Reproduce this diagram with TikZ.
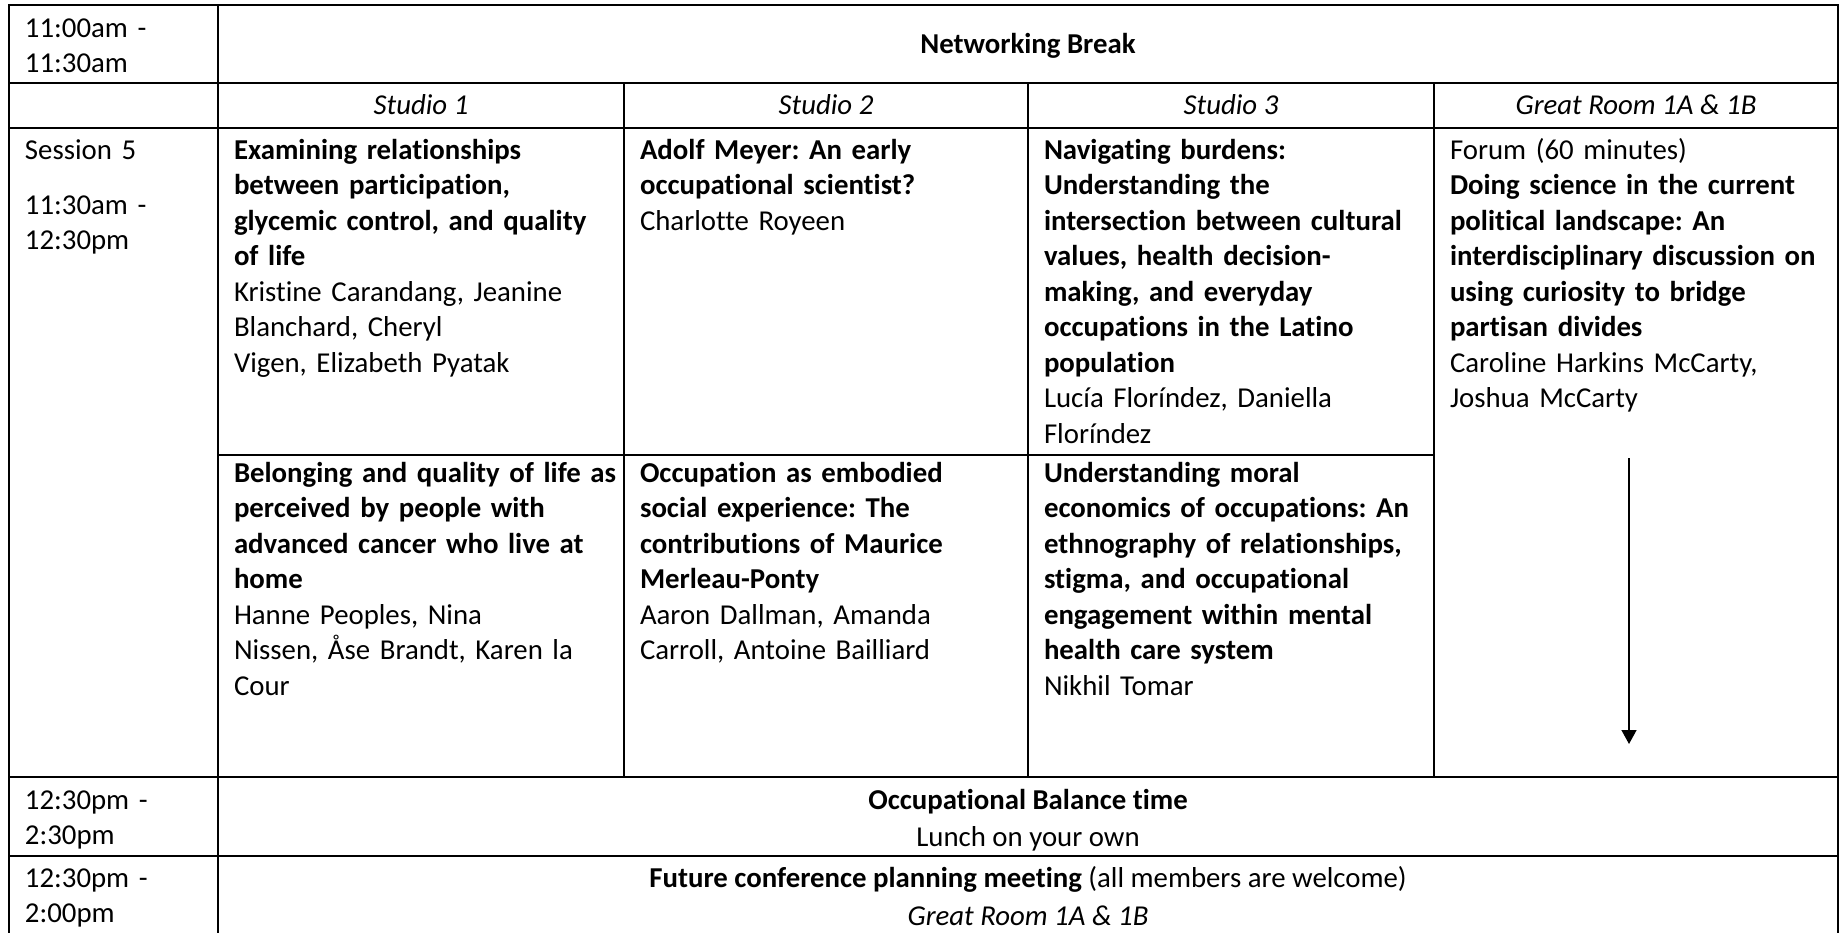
\documentclass[tikz,border=0pt]{standalone}
\usepackage{fontspec}
\setmainfont{Carlito}[Ligatures=NoCommon]
\frenchspacing
\usetikzlibrary{arrows.meta}
\begin{document}
\begin{tikzpicture}[x=0.5pt,y=-0.5pt,
  grid/.style={line width=1.25pt, line cap=rect},
  cellfont/.style={font=\fontsize{14.4}{17.75}\selectfont},
  cell/.style={cellfont, anchor=base west, inner sep=0pt, outer sep=0pt, align=left, text width=240pt},
  ctr/.style={cellfont, anchor=base, inner sep=0pt, outer sep=0pt},
  flowarrow/.style={line width=0.7pt, -{Triangle[length=7pt,width=7.5pt]}}]
\useasboundingbox (0,0) rectangle (1847,932);
% horizontal rules
\draw[grid] (9,5) -- (1838,5);
\draw[grid] (9,83) -- (1838,83);
\draw[grid] (9,128) -- (1838,128);
\draw[grid] (218,455) -- (1434,455);
\draw[grid] (9,777) -- (1838,777);
\draw[grid] (9,856) -- (1838,856);
% vertical rules
\draw[grid] (9,5) -- (9,940);
\draw[grid] (218,5) -- (218,940);
\draw[grid] (1838,5) -- (1838,940);
\draw[grid] (624,83) -- (624,777);
\draw[grid] (1028,83) -- (1028,777);
\draw[grid] (1434,83) -- (1434,777);
% row 1
\node[cell] (t1) at (25,37) {11:00am -\\11:30am};
\node[ctr] (nb) at (1028,53) {\bfseries Networking Break};
% header row
\node[ctr] (h1) at (421,114) {\itshape Studio 1};
\node[ctr] (h2) at (826,114) {\itshape Studio 2};
\node[ctr] (h3) at (1231,114) {\itshape Studio 3};
\node[ctr] (h4) at (1636,114) {\itshape Great Room 1A \& 1B};
% session row
\node[cell] (s5) at (25,159) {Session 5};
\node[cell] (s5t) at (25,214) {11:30am -\\12:30pm};
\node[cell] (a1) at (234,159) {\bfseries Examining relationships\\between participation,\\glycemic control, and quality\\of life\\\mdseries Kristine Carandang, Jeanine\\Blanchard, Cheryl\\Vigen, Elizabeth Pyatak};
\node[cell] (a2) at (640,159) {\bfseries Adolf Meyer: An early\\occupational scientist?\\\mdseries Charlotte Royeen};
\node[cell] (a3) at (1044,159) {\bfseries Navigating burdens:\\Understanding the\\intersection between cultural\\values, health decision-\\making, and everyday\\occupations in the Latino\\population\\\mdseries Lucía Floríndez, Daniella\\Floríndez};
\node[cell] (a4) at (1450,159) {Forum (60 minutes)\\\bfseries Doing science in the current\\political landscape: An\\interdisciplinary discussion on\\using curiosity to bridge\\partisan divides\\\mdseries Caroline Harkins McCarty,\\Joshua McCarty};
\node[cell] (b1) at (234,482) {\bfseries Belonging and quality of life as\\perceived by people with\\advanced cancer who live at\\home\\\mdseries Hanne Peoples, Nina\\Nissen, Åse Brandt, Karen la\\Cour};
\node[cell] (b2) at (640,482) {\bfseries Occupation as embodied\\social experience: The\\contributions of Maurice\\Merleau-Ponty\\\mdseries Aaron Dallman, Amanda\\Carroll, Antoine Bailliard};
\node[cell] (b3) at (1044,482) {\bfseries Understanding moral\\economics of occupations: An\\ethnography of relationships,\\stigma, and occupational\\engagement within mental\\health care system\\\mdseries Nikhil Tomar};
\coordinate (arrS) at (1629,458);
\coordinate (arrE) at (1629,744);
\draw[flowarrow] (arrS) -- (arrE);
% lunch row
\node[cell] (t4) at (25,809) {12:30pm -\\2:30pm};
\node[ctr] (ob) at (1028,809) {\bfseries Occupational Balance time};
\node[ctr] (lu) at (1028,846) {Lunch on your own};
% planning row
\node[cell] (t5) at (25,887) {12:30pm -\\2:00pm};
\node[ctr] (fc) at (1028,887) {\textbf{Future conference planning meeting} (all members are welcome)};
\node[ctr] (gr) at (1028,925) {\itshape Great Room 1A \& 1B};
\end{tikzpicture}
\end{document}
